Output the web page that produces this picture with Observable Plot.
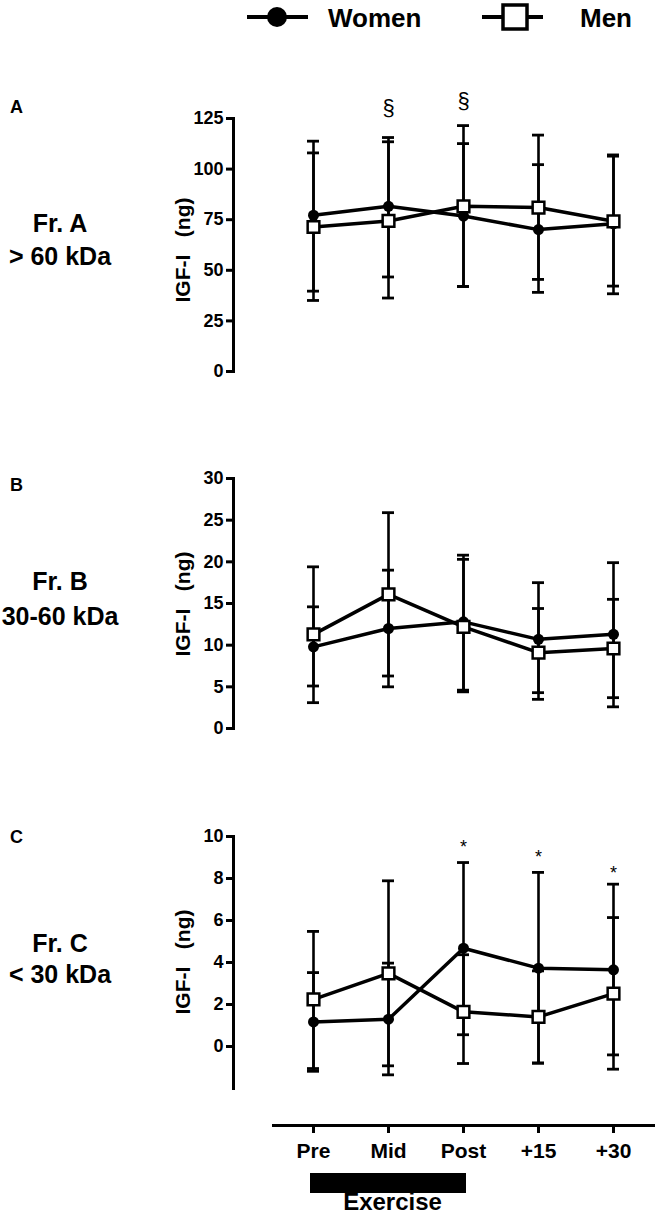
<!DOCTYPE html>
<html><head><meta charset="utf-8">
<script src="https://cdn.jsdelivr.net/npm/d3@7"></script>
<script src="https://cdn.jsdelivr.net/npm/@observablehq/plot@0.6"></script>
<style>
body{margin:0;background:#fff;}
#root{position:relative;width:656px;height:1220px;overflow:hidden;font-family:"Liberation Sans",Arial,sans-serif;background:#fff;}
#root > svg{position:absolute;left:0;}
</style></head><body><div id="root"></div>
<script>
// ---- data ----
const cats = ["Pre", "Mid", "Post", "+15", "+30"];

const womenA    = [77.2, 81.6, 76.8, 70.1, 73.0];
const womenA_lo = [39.7, 46.7, 42.0, 39.1, 38.4];
const womenA_hi = [113.8, 115.6, 112.6, 102.2, 106.4];
const menA      = [71.4, 74.4, 81.6, 81.0, 74.2];
const menA_lo   = [35.1, 36.3, 42.0, 45.5, 42.2];
const menA_hi   = [108.0, 113.5, 121.5, 116.8, 107.0];

const womenB    = [9.8, 12.0, 12.8, 10.7, 11.3];
const womenB_lo = [5.1, 5.0, 4.6, 3.5, 2.6];
const womenB_hi = [14.6, 19.0, 20.8, 17.5, 19.9];
const menB      = [11.3, 16.1, 12.2, 9.1, 9.6];
const menB_lo   = [3.1, 6.3, 4.4, 4.3, 3.7];
const menB_hi   = [19.4, 25.9, 20.3, 14.4, 15.5];

const womenC    = [1.17, 1.30, 4.68, 3.73, 3.65];
const womenC_lo = [-1.18, -1.35, 0.56, -0.79, -0.40];
const womenC_hi = [3.52, 3.97, 8.76, 8.29, 7.73];
const menC      = [2.24, 3.48, 1.65, 1.41, 2.52];
const menC_lo   = [-1.05, -0.92, -0.81, -0.79, -1.08];
const menC_hi   = [5.48, 7.89, 4.37, 3.60, 6.14];

const ticksA = [0, 25, 50, 75, 100, 125];
const ticksB = [0, 5, 10, 15, 20, 25, 30];
const ticksC = [0, 2, 4, 6, 8, 10];

const sectionX = ["Mid", "Post"];      // § marks, panel A
const sectionY = [130, 133.7];
const starX = ["Post", "+15", "+30"];  // * marks, panel C
const starY = [9.7, 9.2, 8.44];

const exercise = [{from: "Pre", to: "Post", label: "Exercise"}];

const panelLabels = [
  {letter: "A", l1: "Fr. A", l2: "> 60 kDa"},
  {letter: "B", l1: "Fr. B", l2: "30-60 kDa"},
  {letter: "C", l1: "Fr. C", l2: "< 30 kDa"}
];

// ---- drawing ----
const FONT = '"Liberation Sans", Arial, sans-serif';
const root = document.getElementById("root");

function panel(w, wlo, whi, m, mlo, mhi, domain, ticks, top, height, mt, mb, extra) {
  const rows = cats.map((c, i) => ({x: c, w: w[i], wlo: wlo[i], whi: whi[i], m: m[i], mlo: mlo[i], mhi: mhi[i]}));
  const cap = (y) => Plot.ruleY(rows, {x1: "x", x2: "x", y, insetLeft: -6, insetRight: -6, strokeWidth: 2.8, stroke: "#000"});
  const svg = Plot.plot({
    width: 656, height, marginTop: mt, marginBottom: mb, marginLeft: 233, marginRight: 0,
    insetLeft: 80, insetRight: 43,
    style: {fontFamily: FONT, background: "transparent", color: "#000", overflow: "visible"},
    x: {type: "point", domain: cats, padding: 0, axis: null},
    y: {domain, axis: null},
    marks: [
      Plot.frame({anchor: "left", strokeWidth: 3, stroke: "#000"}),
      Plot.axisY({ticks, tickSize: 7, tickPadding: 3, fontSize: 18, fontWeight: "bold", strokeWidth: 3, label: null, tickFormat: d => String(d)}),
      Plot.ruleX(rows, {x: "x", y1: "wlo", y2: "whi", strokeWidth: 2.6, stroke: "#000"}),
      Plot.ruleX(rows, {x: "x", y1: "mlo", y2: "mhi", strokeWidth: 2.6, stroke: "#000"}),
      cap("wlo"), cap("whi"), cap("mlo"), cap("mhi"),
      Plot.line(rows, {x: "x", y: "w", strokeWidth: 3.5, stroke: "#000"}),
      Plot.line(rows, {x: "x", y: "m", strokeWidth: 3.5, stroke: "#000"}),
      Plot.dot(rows, {x: "x", y: "w", r: 5.5, fill: "#000", stroke: "none"}),
      Plot.dot(rows, {x: "x", y: "m", symbol: "square", r: 6.6, fill: "#fff", stroke: "#000", strokeWidth: 2.5}),
      ...extra
    ]
  });
  svg.style.top = top + "px";
  root.appendChild(svg);
}

panel(womenA, womenA_lo, womenA_hi, menA, menA_lo, menA_hi, [0, 125], ticksA, 80, 300, 38, 9, [
  Plot.text(sectionX.map((x, i) => ({x, y: sectionY[i]})), {x: "x", y: "y", text: () => "§", fontSize: 22, fill: "#000"})
]);
panel(womenB, womenB_lo, womenB_hi, menB, menB_lo, menB_hi, [0, 30], ticksB, 460, 280, 18, 12, []);
panel(womenC, womenC_lo, womenC_hi, menC, menC_lo, menC_hi, [-2, 10], ticksC, 800, 300, 36, 12, [
  Plot.text(starX.map((x, i) => ({x, y: starY[i]})), {x: "x", y: "y", text: () => "*", fontSize: 18, dy: 4, fill: "#000"})
]);

// bottom x axis with Exercise bar
const bottom = Plot.plot({
  width: 656, height: 115, marginTop: 0, marginBottom: 95, marginLeft: 273, marginRight: 3,
  insetLeft: 40, insetRight: 40,
  style: {fontFamily: FONT, background: "transparent", color: "#000", overflow: "visible"},
  x: {type: "point", domain: cats, padding: 0, axis: null},
  marks: [
    Plot.frame({anchor: "bottom", strokeWidth: 3, stroke: "#000"}),
    Plot.axisX({anchor: "bottom", tickSize: 8, tickPadding: 10, fontSize: 21, fontWeight: "bold", strokeWidth: 3, label: null}),
    Plot.rect(exercise, {x1: "from", x2: "to", insetLeft: -3, insetRight: -3, dy: 68, fill: "#000"}),
    Plot.text(exercise, {x: () => "Mid", frameAnchor: "bottom", text: "label", dy: 84, dx: 4, fontSize: 24, fontWeight: "bold", fill: "#000"})
  ]
});
bottom.style.top = "1105px";
root.appendChild(bottom);

// overlay: legend and left-hand labels
const ov = d3.select(root).append("svg")
  .attr("width", 656).attr("height", 1220)
  .style("top", "0px").style("pointer-events", "none")
  .attr("font-family", FONT).attr("fill", "#000");

// legend
ov.append("line").attr("x1", 247).attr("x2", 308).attr("y1", 17).attr("y2", 17).attr("stroke", "#000").attr("stroke-width", 4);
ov.append("circle").attr("cx", 277).attr("cy", 17).attr("r", 10).attr("fill", "#000");
ov.append("text").attr("x", 328).attr("y", 27).attr("font-size", 26).attr("font-weight", "bold").text("Women");
ov.append("line").attr("x1", 482).attr("x2", 543).attr("y1", 17).attr("y2", 17).attr("stroke", "#000").attr("stroke-width", 4);
ov.append("rect").attr("x", 503).attr("y", 5).attr("width", 24).attr("height", 24).attr("fill", "#fff").attr("stroke", "#000").attr("stroke-width", 3.5);
ov.append("text").attr("x", 580).attr("y", 27).attr("font-size", 26).attr("font-weight", "bold").text("Men");

const letterY = [113, 491, 843];
const l1Y = [232, 590, 952];
const l2Y = [265, 625, 983];
const labelCY = [250, 604, 962];
panelLabels.forEach((p, i) => {
  ov.append("text").attr("x", 10).attr("y", letterY[i]).attr("font-size", 18).attr("font-weight", "bold").text(p.letter);
  ov.append("text").attr("x", 60).attr("y", l1Y[i]).attr("text-anchor", "middle").attr("font-size", 25).attr("font-weight", "bold").text(p.l1);
  ov.append("text").attr("x", 60).attr("y", l2Y[i]).attr("text-anchor", "middle").attr("font-size", 25).attr("font-weight", "bold").text(p.l2);
  ov.append("text").attr("transform", `translate(190,${labelCY[i]}) rotate(-90)`)
    .attr("text-anchor", "middle").attr("font-size", 21).attr("font-weight", "bold")
    .style("white-space", "pre").text("IGF-I   (ng)");
});
</script></body></html>
